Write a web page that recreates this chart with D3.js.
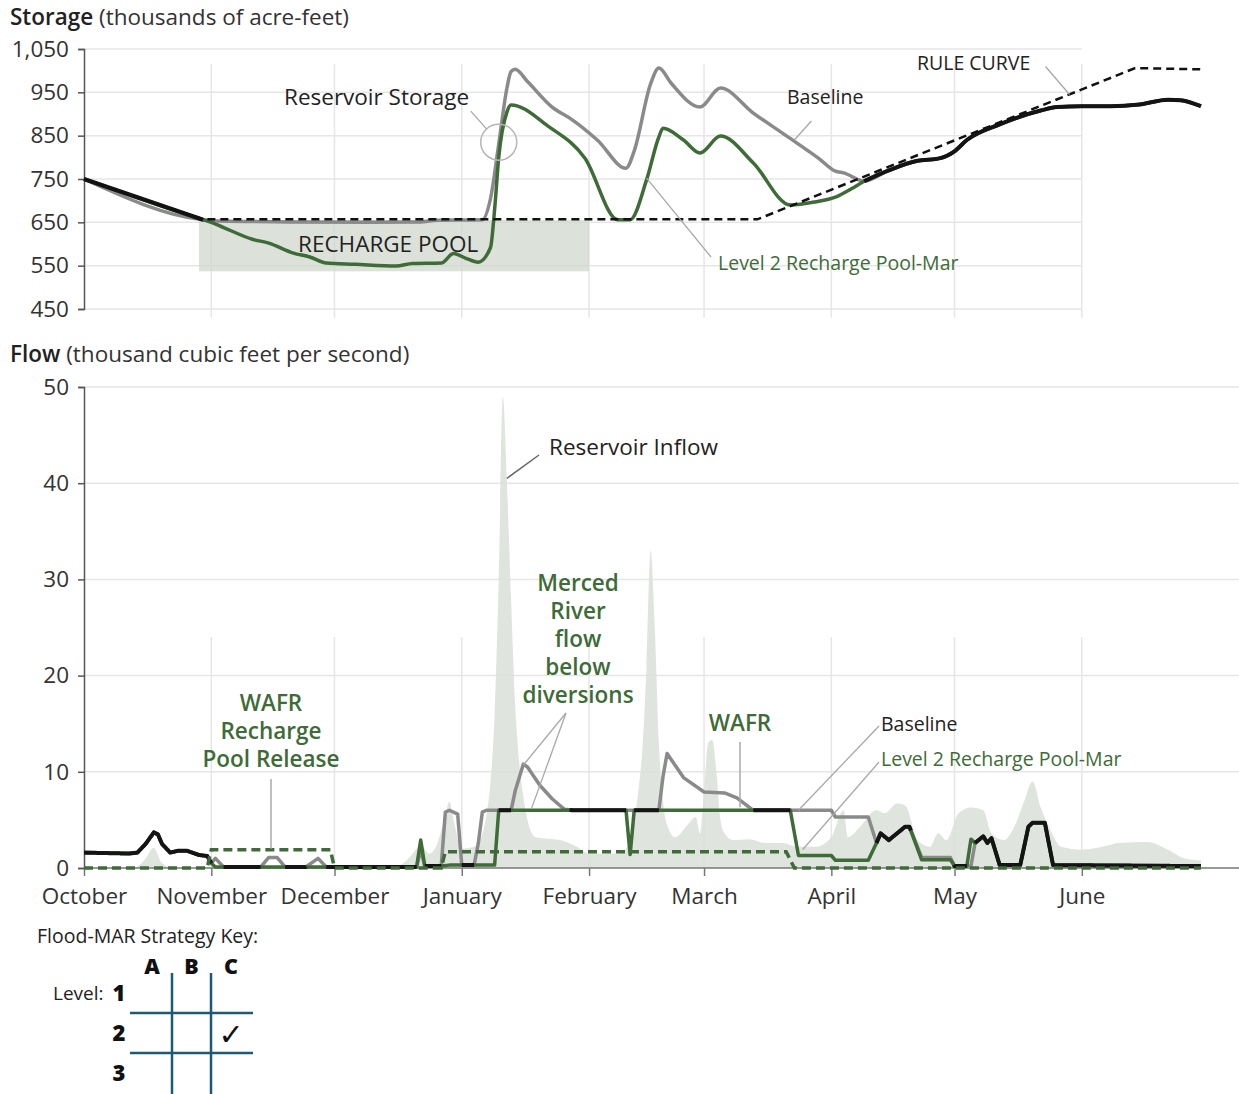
<!DOCTYPE html>
<html>
<head>
<meta charset="utf-8">
<script src="https://cdn.jsdelivr.net/npm/d3@7"></script>
<style>
  body { margin: 0; background: #fff; }
  svg { display: block; font-family: "Open Sans", "Noto Sans", sans-serif; }
</style>
</head>
<body>
<svg id="chart" width="1239" height="1094"></svg>
<script>
// ---- data ----
const monthTicks = ["2016-11-01", "2016-12-01", "2017-01-01", "2017-02-01", "2017-03-01",
  "2017-04-01", "2017-05-01", "2017-06-01"];
const monthLabels = ["2016-10-01", ...monthTicks];
const storageTicks = [450, 550, 650, 750, 850, 950, 1050];
const flowTicks = [0, 10, 20, 30, 40, 50];

// storage, thousands of acre-feet
const storageAutumn = [["2016-10-01", 750], ["2016-10-30", 656]];
const storageSpring = [["2017-04-09", 745], ["2017-04-15", 770], ["2017-04-22", 792], ["2017-04-27", 797],
  ["2017-05-01", 814], ["2017-05-04", 840], ["2017-05-12", 876], ["2017-05-22", 908], ["2017-05-26", 916],
  ["2017-06-01", 918], ["2017-06-08", 918], ["2017-06-15", 922], ["2017-06-22", 933], ["2017-06-25", 932],
  ["2017-06-30", 918]];
const storageBaselineWinter = [["2016-11-03", 653], ["2016-11-20", 651], ["2016-12-10", 650],
  ["2016-12-22", 651], ["2016-12-26", 655], ["2017-01-06", 656], ["2017-01-08", 705], ["2017-01-10", 830],
  ["2017-01-12", 960], ["2017-01-13", 998], ["2017-01-14", 1003], ["2017-01-17", 975], ["2017-01-23", 916],
  ["2017-01-28", 886], ["2017-02-03", 840], ["2017-02-10", 775], ["2017-02-12", 815], ["2017-02-16", 970],
  ["2017-02-18", 1006], ["2017-02-21", 971], ["2017-02-28", 916], ["2017-03-05", 960], ["2017-03-13", 902],
  ["2017-03-21", 850], ["2017-03-29", 797], ["2017-04-02", 768], ["2017-04-04", 764]];
const storageLevel2Winter = [["2016-11-01", 650], ["2016-11-04", 638], ["2016-11-11", 611],
  ["2016-11-15", 602], ["2016-11-21", 579], ["2016-11-25", 570], ["2016-11-29", 556], ["2016-12-06", 553],
  ["2016-12-16", 549], ["2016-12-20", 555], ["2016-12-27", 556], ["2016-12-30", 578], ["2017-01-02", 567],
  ["2017-01-05", 558], ["2017-01-08", 592], ["2017-01-09", 680], ["2017-01-10", 800], ["2017-01-12", 905],
  ["2017-01-13", 921], ["2017-01-22", 872], ["2017-01-31", 798], ["2017-02-08", 656], ["2017-02-11", 656],
  ["2017-02-15", 748], ["2017-02-18", 847], ["2017-02-19", 867], ["2017-02-24", 840], ["2017-02-28", 810],
  ["2017-03-05", 849], ["2017-03-13", 787], ["2017-03-22", 690], ["2017-03-28", 697], ["2017-04-02", 708],
  ["2017-04-06", 728]];
const storageRule = [["2016-10-01", 750], ["2016-10-30", 657], ["2017-03-14", 657], ["2017-06-14", 1006],
  ["2017-06-30", 1003]];
const rechargePool = { start: "2016-10-29", end: "2017-02-01", low: 537, high: 655 };

// flow, thousand cfs
const flowInflow = [["2016-10-01", 0], ["2016-10-13", 0], ["2016-10-16", 1.0], ["2016-10-18", 2.1],
  ["2016-10-20", 0.5], ["2016-10-23", 0], ["2016-12-15", 0], ["2016-12-19", 1.0], ["2016-12-21", 2.0],
  ["2016-12-22", 2.5], ["2016-12-24", 1.5], ["2016-12-26", 2.5], ["2016-12-28", 5.5], ["2016-12-29", 6.9],
  ["2016-12-30", 5.0], ["2017-01-01", 2.0], ["2017-01-04", 2.2], ["2017-01-06", 3.5], ["2017-01-07", 5.5],
  ["2017-01-08", 9], ["2017-01-09", 16], ["2017-01-10", 30], ["2017-01-11", 49], ["2017-01-12", 40],
  ["2017-01-13", 28], ["2017-01-14", 17], ["2017-01-15", 11], ["2017-01-16", 7.4], ["2017-01-17", 5],
  ["2017-01-19", 3.2], ["2017-01-25", 2.9], ["2017-01-29", 2.2], ["2017-02-01", 1.5], ["2017-02-08", 1.5],
  ["2017-02-10", 2.0], ["2017-02-12", 5], ["2017-02-13", 8], ["2017-02-14", 12.5], ["2017-02-15", 21],
  ["2017-02-16", 33], ["2017-02-17", 25], ["2017-02-18", 13], ["2017-02-19", 7], ["2017-02-20", 4.5],
  ["2017-02-22", 3.2], ["2017-02-25", 4.5], ["2017-02-27", 5.3], ["2017-02-28", 3.6], ["2017-03-01", 8],
  ["2017-03-02", 13], ["2017-03-03", 13.3], ["2017-03-04", 10], ["2017-03-05", 5], ["2017-03-06", 3.6],
  ["2017-03-08", 2.9], ["2017-03-12", 3.0], ["2017-03-16", 2.6], ["2017-03-20", 2.6], ["2017-03-24", 2.2],
  ["2017-03-28", 2.2], ["2017-04-01", 3.2], ["2017-04-04", 6.0], ["2017-04-05", 3.2], ["2017-04-08", 4.3],
  ["2017-04-12", 6.0], ["2017-04-14", 5.7], ["2017-04-17", 6.7], ["2017-04-19", 6.5], ["2017-04-22", 2.9],
  ["2017-04-25", 2.2], ["2017-04-27", 3.6], ["2017-04-29", 2.9], ["2017-05-02", 5.7], ["2017-05-05", 6.3],
  ["2017-05-08", 6.0], ["2017-05-10", 3.6], ["2017-05-13", 2.9], ["2017-05-16", 4.7], ["2017-05-18", 7.0],
  ["2017-05-20", 9.0], ["2017-05-22", 6.3], ["2017-05-24", 4.3], ["2017-05-27", 2.2], ["2017-06-01", 1.9],
  ["2017-06-06", 2.2], ["2017-06-10", 2.6], ["2017-06-17", 2.7], ["2017-06-22", 1.9], ["2017-06-26", 1.0],
  ["2017-06-30", 0.8]];
const flowBaseline = [["2016-10-01", 1.6], ["2016-10-12", 1.5], ["2016-10-14", 1.6], ["2016-10-16", 2.5],
  ["2016-10-18", 3.7], ["2016-10-19", 3.5], ["2016-10-20", 2.5], ["2016-10-22", 1.6], ["2016-10-24", 1.8],
  ["2016-10-26", 1.8], ["2016-10-29", 1.35], ["2016-10-31", 1.25], ["2016-11-01", 0.5], ["2016-11-02", 1.0],
  ["2016-11-04", 0.1], ["2016-11-13", 0.1], ["2016-11-15", 1.1], ["2016-11-17", 1.1], ["2016-11-19", 0.1],
  ["2016-11-24", 0.1], ["2016-11-27", 1.0], ["2016-11-29", 0.1], ["2016-12-21", 0.1], ["2016-12-22", 1.9],
  ["2016-12-23", 0.2], ["2016-12-27", 0.2], ["2016-12-28", 5.8], ["2016-12-29", 6.0], ["2016-12-31", 5.6],
  ["2017-01-01", 0.3], ["2017-01-04", 0.3], ["2017-01-05", 2.5], ["2017-01-06", 5.8], ["2017-01-07", 6.0],
  ["2017-01-13", 6.0], ["2017-01-14", 8.0], ["2017-01-16", 10.8], ["2017-01-17", 10.5], ["2017-01-20", 8.6],
  ["2017-01-23", 7.2], ["2017-01-26", 6.1], ["2017-01-28", 6.0], ["2017-02-18", 6.0], ["2017-02-19", 9.5],
  ["2017-02-20", 11.9], ["2017-02-24", 9.4], ["2017-03-01", 7.9], ["2017-03-06", 7.8], ["2017-03-09", 7.3],
  ["2017-03-13", 6.0], ["2017-04-01", 6.0], ["2017-04-02", 5.3], ["2017-04-10", 5.3], ["2017-04-12", 2.6],
  ["2017-04-13", 3.6], ["2017-04-15", 2.9], ["2017-04-19", 4.3], ["2017-04-20", 4.3], ["2017-04-23", 1.1],
  ["2017-04-30", 1.1], ["2017-05-01", 0.2], ["2017-05-05", 0.2], ["2017-05-06", 2.6], ["2017-05-08", 3.3],
  ["2017-05-09", 2.6], ["2017-05-10", 3.1], ["2017-05-12", 0.3], ["2017-05-17", 0.3], ["2017-05-19", 4.3],
  ["2017-05-20", 4.7], ["2017-05-23", 4.7], ["2017-05-25", 0.3], ["2017-06-30", 0.2]];
const flowLevel2 = [["2016-10-01", 1.6], ["2016-10-12", 1.5], ["2016-10-14", 1.6], ["2016-10-16", 2.5],
  ["2016-10-18", 3.7], ["2016-10-19", 3.5], ["2016-10-20", 2.5], ["2016-10-22", 1.6], ["2016-10-24", 1.8],
  ["2016-10-26", 1.8], ["2016-10-29", 1.35], ["2016-10-31", 1.25], ["2016-11-01", 0.5], ["2016-11-02", 0.1],
  ["2016-12-21", 0.1], ["2016-12-22", 2.9], ["2016-12-23", 0.2], ["2016-12-27", 0.2], ["2016-12-29", 0.3],
  ["2017-01-09", 0.3], ["2017-01-10", 6.0], ["2017-02-10", 6.0], ["2017-02-11", 1.4], ["2017-02-12", 6.0],
  ["2017-03-22", 6.0], ["2017-03-24", 1.3], ["2017-04-01", 1.3], ["2017-04-02", 0.8], ["2017-04-10", 0.8],
  ["2017-04-12", 2.6], ["2017-04-13", 3.6], ["2017-04-15", 2.9], ["2017-04-19", 4.3], ["2017-04-20", 4.3],
  ["2017-04-23", 0.85], ["2017-04-30", 0.85], ["2017-05-01", 0.2], ["2017-05-04", 0.2], ["2017-05-05", 3.0],
  ["2017-05-06", 2.6], ["2017-05-08", 3.3], ["2017-05-09", 2.6], ["2017-05-10", 3.1], ["2017-05-12", 0.3],
  ["2017-05-17", 0.3], ["2017-05-19", 4.3], ["2017-05-20", 4.7], ["2017-05-23", 4.7], ["2017-05-25", 0.3],
  ["2017-06-30", 0.2]];
const flowRelease = [["2016-10-01", 0], ["2016-10-31", 0], ["2016-11-01", 1.9], ["2016-11-30", 1.9],
  ["2016-12-01", 0], ["2016-12-27", 0], ["2016-12-28", 1.7], ["2017-03-21", 1.7], ["2017-03-23", 0],
  ["2017-06-30", 0]];

// ---- setup ----
const parse = d3.timeParse("%Y-%m-%d");
const toPts = arr => arr.map(([d, v]) => ({ date: parse(d), v }));
const GREEN = "#3e6b37", GRAY = "#8a8a8a", DARK = "#141414", GRID = "#e6e6e6", LEADER = "#a8a8a8";
const FS = 22.5, FS_SM = 19.5;

const svg = d3.select("#chart");
const W = +svg.attr("width");

const x = d3.scaleTime().domain([parse("2016-10-01"), parse("2017-07-01")]).range([84, 1205]);
const ys = d3.scaleLinear().domain([450, 1050]).range([309, 49]);
const yf = d3.scaleLinear().domain([0, 50]).range([868, 387]);

// ================= STORAGE =================
const gs = svg.append("g");

gs.append("text").attr("x", 10).attr("y", 25).attr("font-size", FS).attr("fill", "#222")
  .call(t => t.append("tspan").attr("font-weight", 600).text("Storage"))
  .call(t => t.append("tspan").attr("fill", "#333").text(" (thousands of acre-feet)"));

gs.append("g").selectAll("line").data(storageTicks).join("line")
  .attr("x1", x.range()[0]).attr("x2", x(parse("2017-06-01")))
  .attr("y1", d => ys(d)).attr("y2", d => ys(d))
  .attr("stroke", GRID).attr("stroke-width", 1.5);
gs.append("g").selectAll("line").data(monthTicks).join("line")
  .attr("x1", d => x(parse(d))).attr("x2", d => x(parse(d)))
  .attr("y1", ys(1015)).attr("y2", ys(430))
  .attr("stroke", GRID).attr("stroke-width", 1.5);

gs.append("rect")
  .attr("x", x(parse(rechargePool.start))).attr("width", x(parse(rechargePool.end)) - x(parse(rechargePool.start)))
  .attr("y", ys(rechargePool.high)).attr("height", ys(rechargePool.low) - ys(rechargePool.high))
  .attr("fill", "#cdd5cb").attr("opacity", 0.7);

const sAxis = gs.append("g").attr("transform", `translate(${x.range()[0]},0)`)
  .call(d3.axisLeft(ys).tickValues(storageTicks).tickFormat(d3.format(",")).tickSize(6).tickPadding(9));
sAxis.select(".domain").attr("stroke", "#555").attr("stroke-width", 1.5);
sAxis.selectAll(".tick line").attr("stroke", "#555").attr("stroke-width", 1.5);
sAxis.selectAll(".tick text").attr("font-size", FS).attr("fill", "#333").attr("font-family", "'Open Sans', sans-serif");

const sLine = d3.line().x(d => x(d.date)).y(d => ys(d.v)).curve(d3.curveMonotoneX);
const sBase = toPts([...storageAutumn, ...storageBaselineWinter, ...storageSpring]);
const sLev2 = toPts([...storageAutumn, ...storageLevel2Winter, ...storageSpring]);

gs.append("path").attr("d", sLine(sBase)).attr("fill", "none").attr("stroke", GRAY)
  .attr("stroke-width", 3.5).attr("stroke-linejoin", "round");
gs.append("path").attr("d", sLine(sLev2)).attr("fill", "none").attr("stroke", GREEN)
  .attr("stroke-width", 3.5).attr("stroke-linejoin", "round");
[storageAutumn, storageSpring].forEach(seg => {
  gs.append("path").attr("d", sLine(toPts(seg))).attr("fill", "none").attr("stroke", DARK)
    .attr("stroke-width", 4).attr("stroke-linejoin", "round");
});
gs.append("path").attr("d", d3.line().x(d => x(d.date)).y(d => ys(d.v))(toPts(storageRule)))
  .attr("fill", "none").attr("stroke", "#111").attr("stroke-width", 2.5).attr("stroke-dasharray", "8,5");

// storage annotations
const circ = { x: x(parse("2017-01-10")), y: ys(835) };
gs.append("circle").attr("cx", circ.x).attr("cy", circ.y).attr("r", 18)
  .attr("fill", "none").attr("stroke", "#b5b5b5").attr("stroke-width", 1.5);
gs.append("line").attr("x1", circ.x - 28).attr("y1", circ.y - 31).attr("x2", circ.x - 12).attr("y2", circ.y - 13)
  .attr("stroke", LEADER).attr("stroke-width", 1.3);
gs.append("text").attr("x", 284).attr("y", 105).attr("font-size", FS).attr("fill", "#222").text("Reservoir Storage");
gs.append("text").attr("x", 298).attr("y", 252).attr("font-size", FS).attr("fill", "#222").text("RECHARGE POOL");

const bAnchor = { x: x(parse("2017-03-23")), y: ys(840) };
gs.append("line").attr("x1", bAnchor.x).attr("y1", bAnchor.y).attr("x2", bAnchor.x + 17).attr("y2", bAnchor.y - 19)
  .attr("stroke", LEADER).attr("stroke-width", 1.3);
gs.append("text").attr("x", 787).attr("y", 104).attr("font-size", FS_SM).attr("fill", "#222").text("Baseline");

const rAnchor = { x: x(parse("2017-05-29")), y: ys(945) };
gs.append("line").attr("x1", rAnchor.x).attr("y1", rAnchor.y).attr("x2", rAnchor.x - 24).attr("y2", rAnchor.y - 28)
  .attr("stroke", LEADER).attr("stroke-width", 1.3);
gs.append("text").attr("x", 917).attr("y", 70).attr("font-size", FS_SM).attr("fill", "#222").text("RULE CURVE");

const lAnchor = { x: x(parse("2017-02-15")), y: ys(752) };
gs.append("line").attr("x1", lAnchor.x).attr("y1", lAnchor.y).attr("x2", 711).attr("y2", 257)
  .attr("stroke", LEADER).attr("stroke-width", 1.3);
gs.append("text").attr("x", 718).attr("y", 270).attr("font-size", FS_SM).attr("fill", GREEN).text("Level 2 Recharge Pool-Mar");

// ================= FLOW =================
const gf = svg.append("g");

gf.append("text").attr("x", 10).attr("y", 362).attr("font-size", FS).attr("fill", "#222")
  .call(t => t.append("tspan").attr("font-weight", 600).text("Flow"))
  .call(t => t.append("tspan").attr("fill", "#333").text(" (thousand cubic feet per second)"));

gf.append("g").selectAll("line").data(flowTicks.slice(1)).join("line")
  .attr("x1", x.range()[0]).attr("x2", W)
  .attr("y1", d => yf(d)).attr("y2", d => yf(d))
  .attr("stroke", GRID).attr("stroke-width", 1.5);
gf.append("g").selectAll("line").data(monthTicks).join("line")
  .attr("x1", d => x(parse(d))).attr("x2", d => x(parse(d)))
  .attr("y1", yf(24)).attr("y2", yf(0))
  .attr("stroke", GRID).attr("stroke-width", 1.5);

const inflow = toPts(flowInflow);
gf.append("path")
  .attr("d", d3.area().x(d => x(d.date)).y0(yf(0)).y1(d => yf(d.v)).curve(d3.curveMonotoneX)(inflow))
  .attr("fill", "#d9dfd8").attr("opacity", 0.85);

const fAxis = gf.append("g").attr("transform", `translate(${x.range()[0]},0)`)
  .call(d3.axisLeft(yf).tickValues(flowTicks).tickSize(6).tickPadding(9));
fAxis.select(".domain").attr("stroke", "#555").attr("stroke-width", 1.5);
fAxis.selectAll(".tick line").attr("stroke", "#555").attr("stroke-width", 1.5);
fAxis.selectAll(".tick text").attr("font-size", FS).attr("fill", "#333").attr("font-family", "'Open Sans', sans-serif");

const xAxis = gf.append("g").attr("transform", `translate(0,${yf(0)})`)
  .call(d3.axisBottom(x).tickValues(monthLabels.map(parse)).tickFormat(d3.timeFormat("%B")).tickSize(8).tickPadding(12));
xAxis.select(".domain").remove();
xAxis.selectAll(".tick line").attr("stroke", "#777").attr("stroke-width", 1.5);
xAxis.selectAll(".tick text").attr("font-size", FS).attr("fill", "#333").attr("font-family", "'Open Sans', sans-serif");
gf.append("line").attr("x1", x.range()[0]).attr("x2", W).attr("y1", yf(0)).attr("y2", yf(0))
  .attr("stroke", "#777").attr("stroke-width", 1.5);

const fLine = d3.line().x(d => x(d.date)).y(d => yf(d.v));
const fBase = toPts(flowBaseline), fLev2 = toPts(flowLevel2);
gf.append("path").attr("d", fLine(fBase)).attr("fill", "none").attr("stroke", GRAY)
  .attr("stroke-width", 3.5).attr("stroke-linejoin", "round");
gf.append("path").attr("d", fLine(fLev2)).attr("fill", "none").attr("stroke", GREEN)
  .attr("stroke-width", 3.5).attr("stroke-linejoin", "round");

// where both scenarios give the same flow the line is drawn black
const interp = pts => d3.scaleTime().domain(pts.map(d => d.date)).range(pts.map(d => d.v)).clamp(true);
const ib = interp(fBase), il = interp(fLev2);
const samples = d3.timeHour.every(3).range(parse("2016-10-01"), parse("2017-06-30"))
  .concat([parse("2017-06-30")])
  .map(t => ({ date: t, b: ib(t), l: il(t) }));
gf.append("path")
  .attr("d", d3.line().defined(d => Math.abs(d.b - d.l) < 0.04).x(d => x(d.date)).y(d => yf(d.b))(samples))
  .attr("fill", "none").attr("stroke", DARK).attr("stroke-width", 4).attr("stroke-linejoin", "round");

gf.append("path").attr("d", fLine(toPts(flowRelease))).attr("fill", "none").attr("stroke", GREEN)
  .attr("stroke-width", 3.5).attr("stroke-dasharray", "9,5");

// flow annotations
gf.append("line").attr("x1", x(parse("2017-01-11")) + 4).attr("y1", yf(40.5)).attr("x2", 539).attr("y2", 455)
  .attr("stroke", "#666").attr("stroke-width", 1.5);
gf.append("text").attr("x", 549).attr("y", 455).attr("font-size", FS).attr("fill", "#222").text("Reservoir Inflow");

gf.append("text").attr("font-size", FS).attr("font-weight", 600).attr("fill", GREEN).attr("text-anchor", "middle")
  .selectAll("tspan").data(["Merced", "River", "flow", "below", "diversions"]).join("tspan")
  .attr("x", 578).attr("y", (d, i) => 591 + i * 28).text(d => d);
const mFrom = { x: 566, y: 713 };
[[x(parse("2017-01-16")), yf(10.7)], [x(parse("2017-01-18")), yf(6.2)]].forEach(([tx, ty]) => {
  gf.append("line").attr("x1", mFrom.x).attr("y1", mFrom.y).attr("x2", tx).attr("y2", ty)
    .attr("stroke", LEADER).attr("stroke-width", 1.3);
});

gf.append("text").attr("x", 740).attr("y", 731).attr("font-size", FS).attr("font-weight", 600).attr("fill", GREEN)
  .attr("text-anchor", "middle").text("WAFR");
gf.append("line").attr("x1", 740).attr("x2", 740).attr("y1", 742).attr("y2", yf(6.0) - 3)
  .attr("stroke", LEADER).attr("stroke-width", 1.5);

gf.append("text").attr("font-size", FS).attr("font-weight", 600).attr("fill", GREEN).attr("text-anchor", "middle")
  .selectAll("tspan").data(["WAFR", "Recharge", "Pool Release"]).join("tspan")
  .attr("x", 271).attr("y", (d, i) => 711 + i * 28).text(d => d);
gf.append("line").attr("x1", 271).attr("x2", 271).attr("y1", 779).attr("y2", yf(2.0))
  .attr("stroke", LEADER).attr("stroke-width", 1.5);

gf.append("line").attr("x1", 879).attr("y1", 726).attr("x2", x(parse("2017-03-24"))).attr("y2", yf(6.0))
  .attr("stroke", LEADER).attr("stroke-width", 1.3);
gf.append("text").attr("x", 881).attr("y", 731).attr("font-size", FS_SM).attr("fill", "#222").text("Baseline");
gf.append("line").attr("x1", 879).attr("y1", 762).attr("x2", x(parse("2017-03-25"))).attr("y2", yf(1.9))
  .attr("stroke", LEADER).attr("stroke-width", 1.3);
gf.append("text").attr("x", 881).attr("y", 766).attr("font-size", FS_SM).attr("fill", GREEN).text("Level 2 Recharge Pool-Mar");

// ================= STRATEGY KEY =================
const gk = svg.append("g");
const keyCols = ["A", "B", "C"], keyRows = ["1", "2", "3"];
const KEY = "#1f5a72";
gk.append("text").attr("x", 37).attr("y", 943).attr("font-size", 19.5).attr("fill", "#222").text("Flood-MAR Strategy Key:");
gk.selectAll(".col").data(keyCols).join("text").attr("class", "col")
  .attr("x", (d, i) => 152 + i * 39.5).attr("y", 974).attr("text-anchor", "middle")
  .attr("font-size", 21.5).attr("font-weight", 800).attr("fill", "#111").text(d => d);
gk.append("text").attr("x", 53).attr("y", 1000).attr("font-size", 19).attr("fill", "#222").text("Level:");
gk.selectAll(".row").data(keyRows).join("text").attr("class", "row")
  .attr("x", 119).attr("y", (d, i) => 1001 + i * 40).attr("text-anchor", "middle")
  .attr("font-size", 22).attr("font-weight", 800).attr("fill", "#111").text(d => d);
[172, 211].forEach(cx => gk.append("line").attr("x1", cx).attr("x2", cx).attr("y1", 973).attr("y2", 1094)
  .attr("stroke", KEY).attr("stroke-width", 2.5));
[1013, 1053].forEach(cy => gk.append("line").attr("x1", 130).attr("x2", 253).attr("y1", cy).attr("y2", cy)
  .attr("stroke", KEY).attr("stroke-width", 2.5));
gk.append("text").attr("x", 231).attr("y", 1045).attr("text-anchor", "middle").attr("font-size", 30)
  .attr("font-family", "DejaVu Sans").attr("fill", "#111").text("\u2713");
</script>
</body>
</html>
